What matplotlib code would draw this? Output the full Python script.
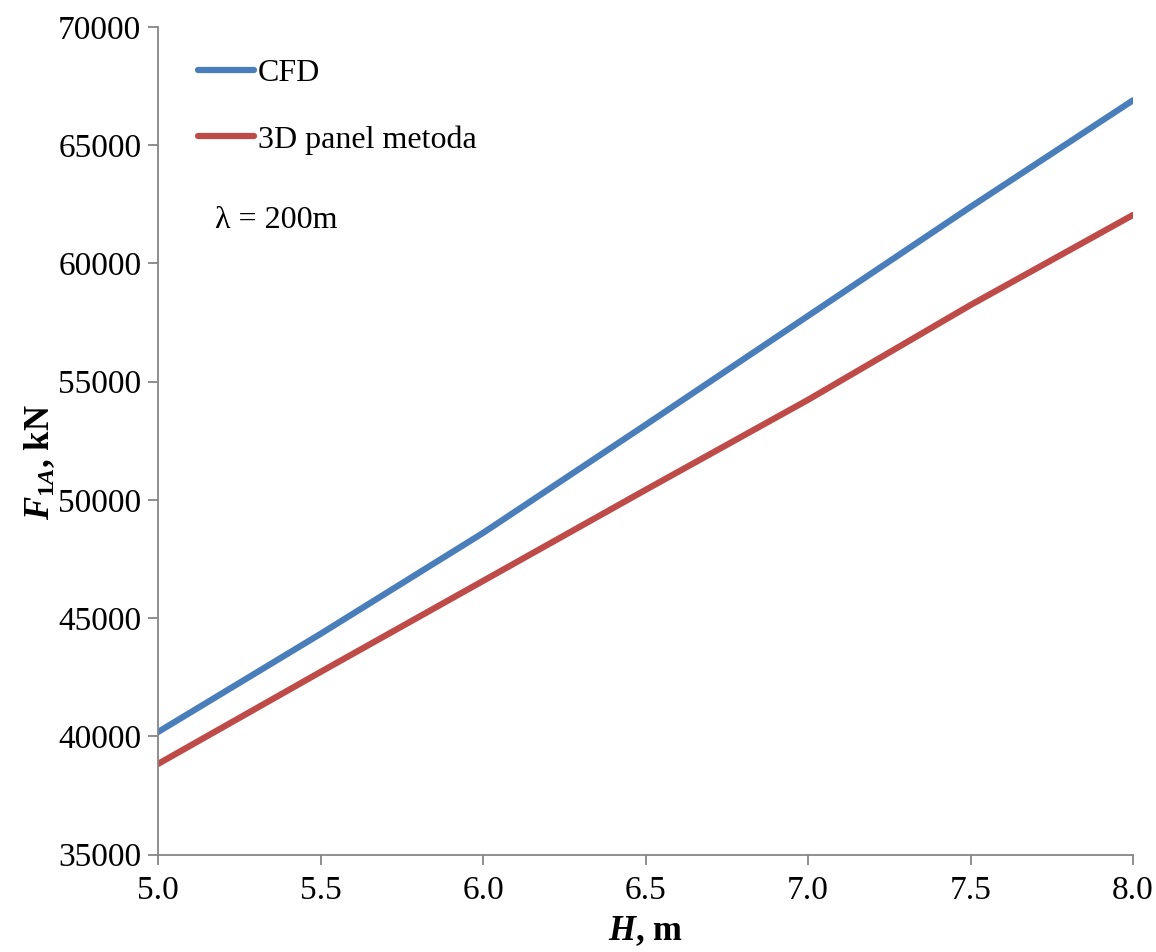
import matplotlib
matplotlib.use("Agg")
import matplotlib.pyplot as plt

# Wave height H (m) and first-order force amplitude F_1A (kN)
wave_height = [5.0, 5.5, 6.0, 6.5, 7.0, 7.5, 8.0]
force_cfd = [40180, 44330, 48600, 53170, 57780, 62390, 66900]
force_panel = [38830, 42720, 46570, 50420, 54230, 58240, 62050]

series_labels = ["CFD", "3D panel metoda"]
x_ticks = [5.0, 5.5, 6.0, 6.5, 7.0, 7.5, 8.0]
y_ticks = [35000, 40000, 45000, 50000, 55000, 60000, 65000, 70000]

plt.rcParams["font.family"] = ["Liberation Serif", "DejaVu Serif"]
plt.rcParams["mathtext.fontset"] = "custom"
plt.rcParams["mathtext.it"] = "Liberation Serif:italic:bold"
plt.rcParams["mathtext.rm"] = "Liberation Serif:bold"
plt.rcParams["mathtext.bf"] = "Liberation Serif:bold"

W, H = 1156, 952
fig = plt.figure(figsize=(W / 100, H / 100), dpi=100)
ax = fig.add_axes([158 / W, 1 - 854.5 / H, (1133 - 158) / W, (854.5 - 27) / H])

axis_grey = "#868686"
ax.plot(wave_height, force_cfd, color="#4a7ebb", lw=4.5, solid_capstyle="round",
        solid_joinstyle="round", label=series_labels[0])
ax.plot(wave_height, force_panel, color="#be4b48", lw=4.5, solid_capstyle="round",
        solid_joinstyle="round", label=series_labels[1])

ax.set_xlim(5.0, 8.0)
ax.set_ylim(35000, 70000)
ax.set_xticks(x_ticks)
ax.set_xticklabels([f"{v:.1f}" for v in x_ticks])
ax.set_yticks(y_ticks)
ax.set_yticklabels([str(v) for v in y_ticks])

for side in ("top", "right"):
    ax.spines[side].set_visible(False)
for side in ("left", "bottom"):
    ax.spines[side].set_color(axis_grey)
    ax.spines[side].set_linewidth(1.3)
ax.tick_params(axis="both", direction="out", length=7, width=1.3, color=axis_grey,
               labelsize=24, labelcolor="black")
ax.tick_params(axis="x", pad=8)
ax.tick_params(axis="y", pad=5)

ax.set_xlabel(r"$\mathit{H}$, m", fontsize=25, fontweight="bold", labelpad=6)
ax.set_ylabel(r"$\mathit{F_{1A}}$, kN", fontsize=25, fontweight="bold")
ax.yaxis.set_label_coords(57 / W, 1 - 462 / H, transform=fig.transFigure)

leg = ax.legend(loc="upper left", bbox_to_anchor=(198 / W, 1 - 59 / H),
                bbox_transform=fig.transFigure, frameon=False, fontsize=23,
                handlelength=1.75, handletextpad=0.12, labelspacing=1.15,
                borderaxespad=0, borderpad=0)

fig.text(215 / W, 1 - 220 / H, "λ = 200m", fontsize=23, va="center", ha="left")

fig.savefig("out.png", dpi=100, facecolor="white")
